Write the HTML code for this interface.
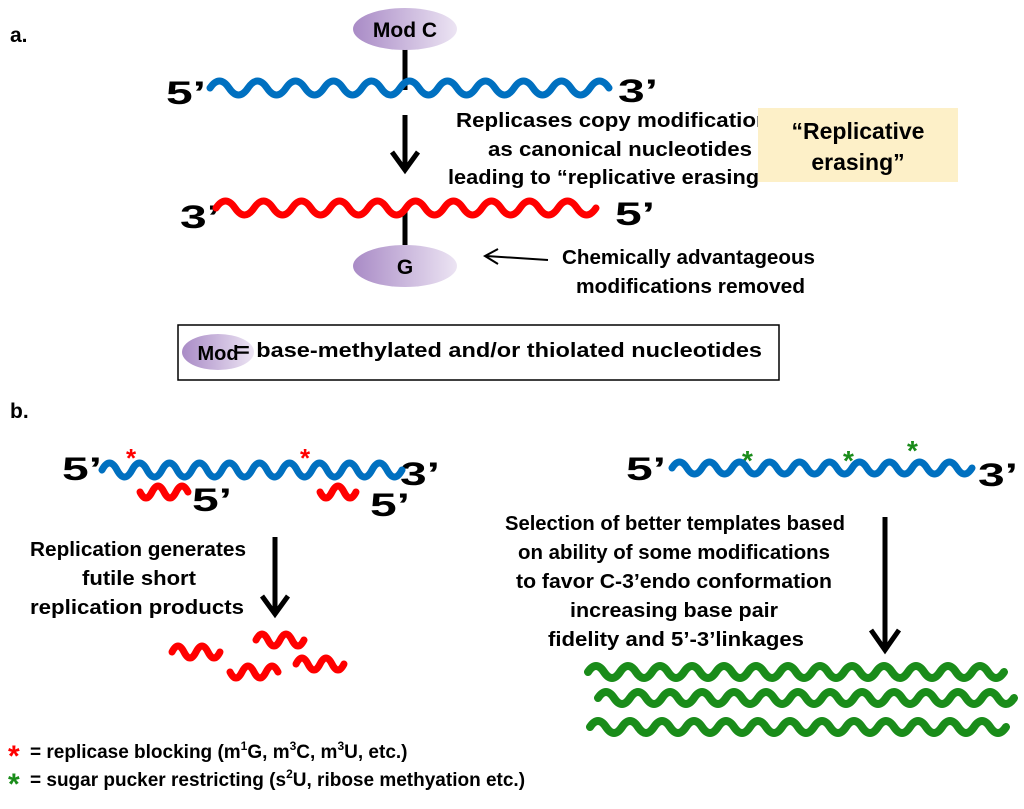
<!DOCTYPE html>
<html><head><meta charset="utf-8"><style>
body{margin:0;width:1024px;height:804px;background:#fff;overflow:hidden;font-family:"Liberation Sans",sans-serif}
svg text{font-family:"Liberation Sans",sans-serif;font-weight:bold}
</style></head><body>
<svg id="s" width="1024" height="804" xmlns="http://www.w3.org/2000/svg">
<defs>
<linearGradient id="g" x1="0" x2="1"><stop offset="0" stop-color="#a98bc6"/><stop offset="1" stop-color="#ece4f3"/></linearGradient>
</defs>
<text x="10" y="42" font-size="21">a.</text>
<text x="10" y="418" font-size="21">b.</text>
<line x1="405" y1="45" x2="405" y2="90" stroke="#000" stroke-width="5"/>
<ellipse cx="405" cy="29" rx="52" ry="21" fill="url(#g)"/>
<text x="405" y="37" font-size="21" text-anchor="middle">Mod C</text>
<text x="166" y="104" font-size="32" textLength="40" lengthAdjust="spacingAndGlyphs">5’</text>
<text x="618" y="102" font-size="32" textLength="40" lengthAdjust="spacingAndGlyphs">3’</text>
<line x1="405" y1="115" x2="405" y2="168" stroke="#000" stroke-width="5"/>
<path d="M392,152 L405,170 L418,152" fill="none" stroke="#000" stroke-width="5"/>
<g font-size="20">
<text x="456" y="127" textLength="326" lengthAdjust="spacingAndGlyphs">Replicases copy modifications</text>
<text x="488" y="156" textLength="264" lengthAdjust="spacingAndGlyphs">as canonical nucleotides</text>
<text x="448" y="184" textLength="322" lengthAdjust="spacingAndGlyphs">leading to “replicative erasing”</text>
<text x="562" y="264" textLength="253" lengthAdjust="spacingAndGlyphs">Chemically advantageous</text>
<text x="576" y="293" textLength="229" lengthAdjust="spacingAndGlyphs">modifications removed</text>
<text x="236" y="357" textLength="526" lengthAdjust="spacingAndGlyphs">= base-methylated and/or thiolated nucleotides</text>
<text x="30" y="556" textLength="216" lengthAdjust="spacingAndGlyphs">Replication generates</text>
<text x="82" y="585" textLength="114" lengthAdjust="spacingAndGlyphs">futile short</text>
<text x="30" y="614" textLength="214" lengthAdjust="spacingAndGlyphs">replication products</text>
<text x="505" y="530" textLength="340" lengthAdjust="spacingAndGlyphs">Selection of better templates based</text>
<text x="518" y="559" textLength="312" lengthAdjust="spacingAndGlyphs">on ability of some modifications</text>
<text x="516" y="588" textLength="316" lengthAdjust="spacingAndGlyphs">to favor C-3’endo conformation</text>
<text x="570" y="617" textLength="208" lengthAdjust="spacingAndGlyphs">increasing base pair</text>
<text x="548" y="646" textLength="256" lengthAdjust="spacingAndGlyphs">fidelity and 5’-3’linkages</text>
</g>
<rect x="758" y="108" width="200" height="74" fill="#fdf0c8"/>
<text x="858" y="139" font-size="23" text-anchor="middle">“Replicative</text>
<text x="858" y="170" font-size="23" text-anchor="middle">erasing”</text>
<text x="180" y="228" font-size="32" textLength="40" lengthAdjust="spacingAndGlyphs">3’</text>
<text x="615" y="225" font-size="32" textLength="40" lengthAdjust="spacingAndGlyphs">5’</text>
<line x1="405" y1="212" x2="405" y2="245" stroke="#000" stroke-width="5"/>
<ellipse cx="405" cy="266" rx="52" ry="21" fill="url(#g)"/>
<text x="405" y="274" font-size="21" text-anchor="middle">G</text>
<line x1="548" y1="260" x2="486" y2="256" stroke="#000" stroke-width="2"/>
<path d="M498,249 L485,256 L498,264" fill="none" stroke="#000" stroke-width="2"/>
<rect x="178" y="325" width="601" height="55" fill="#fff" stroke="#000" stroke-width="1.5"/>
<ellipse cx="218" cy="352" rx="36" ry="18" fill="url(#g)"/>
<text x="218" y="360" font-size="20" text-anchor="middle">Mod</text>
<text x="236" y="357" font-size="20" textLength="526" lengthAdjust="spacingAndGlyphs">= base-methylated and/or thiolated nucleotides</text>
<text x="62" y="480" font-size="32" textLength="40" lengthAdjust="spacingAndGlyphs">5’</text>
<text x="400" y="485" font-size="32" textLength="40" lengthAdjust="spacingAndGlyphs">3’</text>
<text x="192" y="511" font-size="32" textLength="40" lengthAdjust="spacingAndGlyphs">5’</text>
<text x="370" y="516" font-size="32" textLength="40" lengthAdjust="spacingAndGlyphs">5’</text>
<text x="126" y="467" font-size="26" fill="#f00">*</text>
<text x="300" y="467" font-size="26" fill="#f00">*</text>
<line x1="275" y1="537" x2="275" y2="612" stroke="#000" stroke-width="5"/>
<path d="M262,596 L275,614 L288,596" fill="none" stroke="#000" stroke-width="5"/>
<text x="626" y="480" font-size="32" textLength="40" lengthAdjust="spacingAndGlyphs">5’</text>
<text x="978" y="486" font-size="32" textLength="40" lengthAdjust="spacingAndGlyphs">3’</text>
<text x="742" y="470" font-size="28" fill="#1a8c1a">*</text>
<text x="843" y="470" font-size="28" fill="#1a8c1a">*</text>
<text x="907" y="460" font-size="28" fill="#1a8c1a">*</text>
<line x1="885" y1="517" x2="885" y2="648" stroke="#000" stroke-width="5"/>
<path d="M871,630 L885,650 L899,630" fill="none" stroke="#000" stroke-width="5"/>
<text x="8" y="766" font-size="30" fill="#f00">*</text>
<text x="30" y="758" font-size="19">= replicase blocking (m<tspan font-size="12" dy="-8">1</tspan><tspan dy="8">G, m</tspan><tspan font-size="12" dy="-8">3</tspan><tspan dy="8">C, m</tspan><tspan font-size="12" dy="-8">3</tspan><tspan dy="8">U, etc.)</tspan></text>
<text x="8" y="794" font-size="30" fill="#1a8c1a">*</text>
<text x="30" y="786" font-size="19">= sugar pucker restricting (s<tspan font-size="12" dy="-8">2</tspan><tspan dy="8">U, ribose methyation etc.)</tspan></text>
<g id="w"></g>
</svg>
<script>
function wave(x0,x1,y,p,a,col,w,start){
 var d="M"+x0+","+y; var h=p/2; var sgn=start||-1; var x=x0;
 while(x+h<=x1+0.1){d+=" q"+(h/2)+","+(sgn*a*2)+" "+h+",0"; sgn=-sgn; x+=h;}
 var e=document.createElementNS("http://www.w3.org/2000/svg","path");
 e.setAttribute("d",d);e.setAttribute("fill","none");e.setAttribute("stroke",col);
 e.setAttribute("stroke-width",w);e.setAttribute("stroke-linecap","round");
 document.getElementById("w").appendChild(e);
}
var B="#0070c0",R="#ff0000",G="#1a8c1a";
wave(210,610,88,38,7,B,7,-1);
wave(216,610,208,38,7,R,7,-1);
wave(102,402,470,30,7,B,7,-1);
wave(140,188,492,24,6,R,7,1);
wave(320,366,492,24,6,R,7,1);
wave(672,972,468,30,6,B,7,-1);
wave(588,1010,672,32,6,G,8,-1);
wave(598,1018,698,32,6,G,8,-1);
wave(590,1015,727,32,6,G,8,-1);
wave(172,220,652,24,6,R,7,-1);
wave(256,306,640,24,6,R,7,-1);
wave(230,280,672,24,6,R,7,1);
wave(296,346,664,24,6,R,7,-1);
</script>
</body></html>
